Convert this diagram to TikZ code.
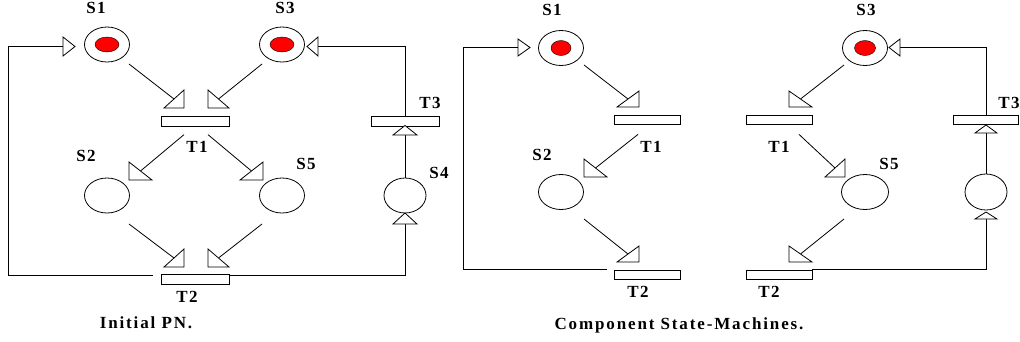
\documentclass[tikz,border=0pt]{standalone}
\usepackage{fontspec}
\setmainfont{Liberation Serif}
\usetikzlibrary{shapes.geometric,calc}
\begin{document}
\begin{tikzpicture}[x=1pt,y=-1pt,line width=0.8pt,
 place/.style={draw,ellipse,minimum width=45pt,minimum height=35pt,inner sep=0pt},
 token/.style={draw,line width=0.4pt,fill=red,ellipse,minimum width=24pt,minimum height=15pt,inner sep=0pt},
 trans/.style={draw,rectangle,minimum width=68pt,minimum height=9.5pt,inner sep=0pt,fill=white},
 tri/.style={draw,fill=white,line join=miter},
 lbl/.style={font=\bfseries\fontsize{17}{17}\selectfont\addfontfeature{LetterSpace=8},inner sep=0pt},
 caption/.style={lbl,font=\bfseries\fontsize{17}{17}\selectfont\addfontfeature{LetterSpace=11}},
]
\useasboundingbox (0,0) rectangle (1020,341);

% ---------------- Initial PN ----------------
\node[place] (S1L) at (107,44.5) {};
\node[token] (S1Lt) at (S1L) {};
\node[place] (S3L) at (282,44.5) {};
\node[token] (S3Lt) at (S3L) {};
\node[place] (S2L) at (107,195.5) {};
\node[place] (S5L) at (282,195.5) {};
\node[place,minimum width=42pt] (S4L) at (405,195.5) {};
\node[trans] (T1L) at (195,121.5) {};
\node[trans] (T2L) at (195,279.5) {};
\node[trans] (T3L) at (405,121.5) {};

\coordinate (inS1L) at (63,46.5);
\coordinate (inS3L) at (318,46.5);
\coordinate (inS4L) at (405,224);
\coordinate (inT3L) at (405,135);
\coordinate (h1) at (174,99);
\coordinate (h2) at (218.5,99);
\coordinate (h3) at (140.5,171);
\coordinate (h4) at (251.5,171);
\coordinate (h5) at (174,258);
\coordinate (h6) at (218.5,258);

\draw ($(T2L.north west)+(-8,1.5)$) -- ++(-144,0) |- (inS1L);
\draw[tri] (63,37) -- (75,46.5) -- (63,56) -- cycle;
\draw ($(T2L.north east)+(0,1.5)$) -| (inS4L);
\draw[tri] (393,224) -- (417,224) -- (405,213) -- cycle;
\draw (S4L.north) -- (inT3L);
\draw[tri] (393,135) -- (417,135) -- (405,125.5) -- cycle;
\draw (T3L.north) |- (inS3L);
\draw[tri] (318,37) -- (307,46.5) -- (318,56) -- cycle;

\draw ($(S1L)+(22,19.5)$) -- (h1);
\draw[tri] (164,108) -- (184,108) -- (184,90) -- cycle;
\draw ($(S3L)+(-20,19.5)$) -- (h2);
\draw[tri] (208,90) -- (208,108) -- (229,108) -- cycle;
\draw ($(T1L.south)+(-11,8)$) -- (h3);
\draw[tri] (129,162) -- (129,180) -- (152,180) -- cycle;
\draw ($(T1L.south)+(13,8)$) -- (h4);
\draw[tri] (240,180) -- (263,180) -- (263,162) -- cycle;
\draw ($(S2L)+(22,28.5)$) -- (h5);
\draw[tri] (164,267) -- (184,267) -- (184,249) -- cycle;
\draw ($(S5L)+(-20,28.5)$) -- (h6);
\draw[tri] (208,249) -- (208,267) -- (229,267) -- cycle;

\node[lbl] (lS1L) at (96,8) {S1};
\node[lbl] (lS3L) at (285,8) {S3};
\node[lbl] (lT3L) at (430,103) {T3};
\node[lbl] (lT1L) at (197,147) {T1};
\node[lbl] (lS2L) at (86,156) {S2};
\node[lbl] (lS5L) at (306,164) {S5};
\node[lbl] (lS4L) at (439,173) {S4};
\node[lbl] (lT2L) at (187,297) {T2};
\node[caption] (capL) at (146,323) {Initial PN.};

% ---------------- Component State-Machines ----------------
\node[place] (S1R) at (561,48) {};
\node[token,minimum width=20pt] (S1Rt) at (S1R) {};
\node[place] (S2R) at (561,192) {};
\node[place] (S3R) at (865,48) {};
\node[token,minimum width=21pt] (S3Rt) at (S3R) {};
\node[place,minimum width=47pt] (S5R) at (865,192) {};
\node[place,minimum width=42pt,minimum height=36pt] (S4R) at (986,192) {};
\node[trans,minimum width=66pt,minimum height=9pt] (T1R) at (647,119.5) {};
\node[trans,minimum width=66pt,minimum height=9pt] (T2R) at (647,274.5) {};
\node[trans,minimum width=66pt,minimum height=9pt] (T1Rb) at (779,119.5) {};
\node[trans,minimum width=66pt,minimum height=9pt] (T2Rb) at (779,274.5) {};
\node[trans,minimum width=65pt,minimum height=9pt] (T3R) at (986,119.5) {};

\coordinate (inS1R) at (518,47.5);
\coordinate (inS3R) at (900,47.5);
\coordinate (inS4R) at (986,219);
\coordinate (inT3R) at (986,133);
\coordinate (r1) at (628,99);
\coordinate (r2) at (595.5,168);
\coordinate (r3) at (628,254);
\coordinate (r4) at (800.5,99);
\coordinate (r5) at (835,168);
\coordinate (r6) at (800.5,254);

\draw ($(T2R.north west)+(-7,0)$) -- ++(-143,0) |- (inS1R);
\draw[tri] (518,39) -- (530,47.5) -- (518,56) -- cycle;
\draw (T2Rb.north east) -| (inS4R);
\draw[tri] (975,219) -- (997,219) -- (986,212) -- cycle;
\draw (S4R.north) -- (inT3R);
\draw[tri] (975,133) -- (997,133) -- (986,125) -- cycle;
\draw (T3R.north) |- (inS3R);
\draw[tri] (900,39) -- (889,47.5) -- (900,56) -- cycle;

\draw ($(S1R)+(23,17)$) -- (r1);
\draw[tri] (617,107) -- (639,107) -- (639,91) -- cycle;
\draw ($(T1R.south)+(-9,10)$) -- (r2);
\draw[tri] (584,159) -- (584,177) -- (607,177) -- cycle;
\draw ($(S2R)+(23,27)$) -- (r3);
\draw[tri] (617,262) -- (639,262) -- (639,246) -- cycle;
\draw ($(S3R)+(-21,17)$) -- (r4);
\draw[tri] (789,91) -- (789,107) -- (812,107) -- cycle;
\draw ($(T1Rb.south)+(20,10)$) -- (r5);
\draw[tri] (825,177) -- (845,177) -- (845,159) -- cycle;
\draw ($(S5R)+(-21,27)$) -- (r6);
\draw[tri] (789,246) -- (789,262) -- (812,262) -- cycle;

\node[lbl] (lS1R) at (552,10) {S1};
\node[lbl] (lS3R) at (866,10) {S3};
\node[lbl] (lT1R) at (651,147) {T1};
\node[lbl] (lS2R) at (542,155) {S2};
\node[lbl] (lT1Rb) at (779,147) {T1};
\node[lbl] (lS5R) at (889,164) {S5};
\node[lbl] (lT3R) at (1009,103) {T3};
\node[lbl] (lT2R) at (638,292) {T2};
\node[lbl] (lT2Rb) at (769,292) {T2};
\node[caption] (capR) at (679,325) {Component State-Machines.};
\end{tikzpicture}
\end{document}
